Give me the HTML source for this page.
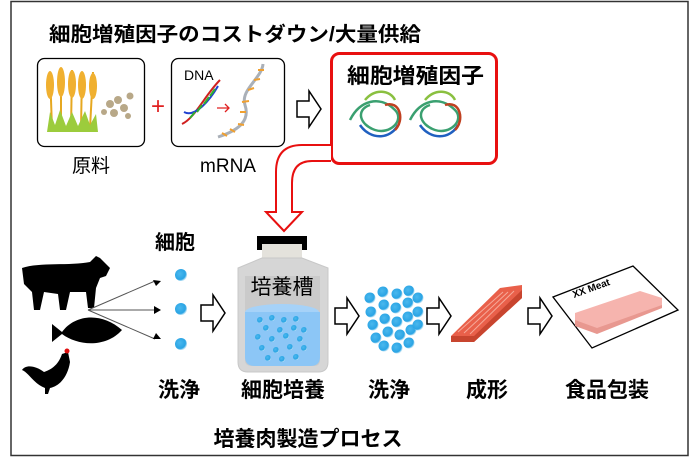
<!DOCTYPE html>
<html><head><meta charset="utf-8"><style>
html,body{margin:0;padding:0;background:#fff;}
svg{display:block;}
text{font-family:"Liberation Sans","Noto Sans CJK JP",sans-serif;}
</style></head><body>
<svg width="690" height="474" viewBox="0 0 690 474" xmlns="http://www.w3.org/2000/svg">
<defs>
<g id="harrow"><path d="M0,-8 H12 V-18 L24,0 L12,18 V8 H0 Z" fill="#fff" stroke="#000" stroke-width="1.5"/></g>
<radialGradient id="cell" cx="0.4" cy="0.4" r="0.6"><stop offset="0" stop-color="#4ab8ee"/><stop offset="0.8" stop-color="#2aa4e4"/><stop offset="1" stop-color="#bfe4f6"/></radialGradient>
</defs>
<rect x="11" y="1.5" width="677" height="454" fill="#fff" stroke="#333" stroke-width="1.5"/>
<text x="49" y="41" font-size="20" font-weight="bold" textLength="372" lengthAdjust="spacingAndGlyphs">細胞増殖因子のコストダウン/大量供給</text>

<!-- box 1 -->
<rect x="37.5" y="58.5" width="107" height="88" rx="7" fill="#fff" stroke="#000" stroke-width="1.3"/>
<g stroke="#e6a820" stroke-width="2">
<line x1="50" y1="72" x2="52" y2="128"/><line x1="61" y1="68" x2="61" y2="128"/><line x1="72" y1="70" x2="71" y2="128"/><line x1="82" y1="72" x2="81" y2="128"/><line x1="93" y1="72" x2="90" y2="128"/>
</g>
<g fill="#f0b030">
<ellipse cx="50" cy="85" rx="4" ry="14"/><ellipse cx="61" cy="82" rx="4" ry="15"/><ellipse cx="72" cy="84" rx="4" ry="14"/><ellipse cx="82" cy="85" rx="4" ry="14"/><ellipse cx="93" cy="86" rx="4" ry="13"/>
</g>
<path d="M47,132 L50,112 L55,125 L60,110 L66,126 L72,112 L78,126 L85,111 L90,125 L96,114 L98,132 Z" fill="#9ccc3c"/>
<g fill="#b8a888"><circle cx="110" cy="104" r="4"/><circle cx="118" cy="100" r="4"/><circle cx="124" cy="108" r="4"/><circle cx="114" cy="113" r="4"/><circle cx="130" cy="96" r="3.5"/><circle cx="128" cy="116" r="3"/><circle cx="104" cy="112" r="3"/></g>
<text x="91" y="172" font-size="19" text-anchor="middle">原料</text>
<text x="158" y="114" font-size="24" fill="#e02020" text-anchor="middle">+</text>

<!-- box 2 -->
<rect x="171.5" y="58.5" width="113" height="88" rx="7" fill="#fff" stroke="#000" stroke-width="1.3"/>
<text x="184" y="80" font-size="14">DNA</text>
<path d="M182,124 C195,118 205,95 220,80" stroke="#d02020" stroke-width="2" fill="none"/>
<path d="M184,112 C195,118 210,100 218,86" stroke="#2040d0" stroke-width="2" fill="none"/>
<path d="M190,118 L195,112 M197,112 L202,105 M204,104 L209,97 M210,96 L215,89" stroke="#30b030" stroke-width="2"/>
<path d="M217,108 H229 M225,104 L229,108 L225,112" stroke="#e02020" stroke-width="1.3" fill="none"/>
<path d="M218,137 C240,130 250,120 245,105 C240,90 262,78 263,64" stroke="#aab0b8" stroke-width="3" fill="none"/>
<path d="M222,133 l5,3 M230,129 l5,3 M238,124 l6,1 M240,112 l6,0 M242,102 l7,-1 M248,90 l6,-2 M254,80 l6,-1 M258,70 l6,0" stroke="#f0a030" stroke-width="2"/>
<text x="228" y="172" font-size="19" text-anchor="middle">mRNA</text>

<use href="#harrow" x="297" y="109"/>

<!-- red box -->
<rect x="331.5" y="53.5" width="165" height="110" rx="8" fill="#fff" stroke="#e81010" stroke-width="3"/>
<text x="347" y="83" font-size="21" font-weight="bold" textLength="137" lengthAdjust="spacingAndGlyphs">細胞増殖因子</text>
<g stroke-width="2.5" fill="none">
<path d="M350,120 C360,100 380,95 395,110 C405,120 390,135 375,130 C360,125 355,110 370,105" stroke="#3aa070"/>
<path d="M365,100 C375,88 390,90 395,100" stroke="#8ac040"/>
<path d="M360,125 C370,140 390,140 398,125" stroke="#2060c0"/>
<path d="M385,105 C400,100 405,120 395,130" stroke="#c04020"/>
<path d="M410,120 C420,100 440,95 455,110 C465,120 450,135 435,130 C420,125 415,110 430,105" stroke="#3aa070"/>
<path d="M425,100 C435,88 450,90 455,100" stroke="#8ac040"/>
<path d="M420,125 C430,140 450,140 458,125" stroke="#2060c0"/>
<path d="M445,105 C460,100 465,120 455,130" stroke="#c04020"/>
</g>

<!-- red hollow connector -->
<path d="M331,145 H302 Q276,145 276,172 V212 H266 L284,231 L302,212 H292 V183 Q292,161 312,161 H331" fill="#fff" stroke="#e81010" stroke-width="2"/>

<!-- animals -->
<path d="M22,268 C40,262 70,266 90,262 L96,256 L100,258 L110,268 L106,276 L100,278 L96,288 L94,308 L88,308 L86,292 L70,292 L66,310 L60,310 L58,294 L44,292 L40,310 L34,310 L32,292 L24,284 Z" fill="#000"/>
<path d="M52,324 L62,332 C75,314 102,312 122,330 C106,348 78,346 62,334 L52,342 Z" fill="#000"/>
<path d="M62,354 L68,352 L70,362 C68,376 60,386 50,388 L48,394 L45,394 L45,388 C34,384 28,372 22,370 C26,364 36,366 44,372 C50,370 58,366 62,354 Z" fill="#000"/>
<circle cx="67" cy="351" r="2.5" fill="#e01010"/>
<g stroke="#555" stroke-width="1" fill="#000">
<line x1="88" y1="310" x2="155" y2="281"/><line x1="88" y1="310" x2="155" y2="310"/><line x1="88" y1="310" x2="155" y2="339"/>
</g>
<path d="M161,281 l-8,-1 l3,6 Z M161,310 l-7,-4 v8 Z M161,339 l-5,-6 l-3,6 Z" fill="#000"/>
<text x="155" y="249" font-size="20" font-weight="bold">細胞</text>
<circle cx="181" cy="275" r="6" fill="url(#cell)"/><circle cx="181" cy="309" r="6" fill="url(#cell)"/><circle cx="181" cy="344" r="6" fill="url(#cell)"/>
<use href="#harrow" x="201" y="313"/>

<!-- bottle -->
<rect x="257" y="236" width="50" height="14" fill="#000"/>
<rect x="262" y="244" width="40" height="14" fill="#e4e2dc"/>
<path d="M262,258 L238,268 V362 Q238,372 248,372 H318 Q328,372 328,362 V268 L302,258 Z" fill="#d6d6d6" stroke="#c8c8c8"/>
<path d="M245,276 V360 Q245,366 252,366 H314 Q320,366 320,360 V276 Z" fill="#bdbdbd" opacity="0.5"/>
<text x="282" y="294" font-size="21" text-anchor="middle">培養槽</text>
<ellipse cx="282" cy="312" rx="37" ry="8" fill="#a6d2f8"/>
<path d="M245,312 V357 Q245,366 255,366 H310 Q320,366 320,357 V312 Z" fill="#8cc6f6"/>
<g fill="url(#cell)">
<circle cx="260" cy="320" r="3"/><circle cx="272" cy="318" r="3"/><circle cx="284" cy="320" r="3"/><circle cx="296" cy="319" r="3"/><circle cx="266" cy="328" r="3"/><circle cx="280" cy="330" r="3"/><circle cx="294" cy="328" r="3"/><circle cx="304" cy="330" r="3"/><circle cx="258" cy="337" r="3"/><circle cx="272" cy="339" r="3"/><circle cx="286" cy="336" r="3"/><circle cx="300" cy="339" r="3"/><circle cx="262" cy="348" r="3"/><circle cx="276" cy="350" r="3"/><circle cx="290" cy="347" r="3"/><circle cx="304" cy="348" r="3"/><circle cx="268" cy="358" r="3"/><circle cx="282" cy="359" r="3"/><circle cx="296" cy="357" r="3"/>
</g>
<use href="#harrow" x="335" y="316"/>

<!-- cell cluster -->
<g fill="url(#cell)">
<circle cx="370" cy="298" r="5.5"/><circle cx="383" cy="292" r="5.5"/><circle cx="397" cy="294" r="5.5"/><circle cx="409" cy="291" r="5.5"/>
<circle cx="371" cy="312" r="5.5"/><circle cx="384" cy="305" r="5.5"/><circle cx="396" cy="308" r="5.5"/><circle cx="408" cy="303" r="5.5"/><circle cx="418" cy="298" r="5.5"/>
<circle cx="373" cy="325" r="5.5"/><circle cx="385" cy="319" r="5.5"/><circle cx="397" cy="322" r="5.5"/><circle cx="408" cy="317" r="5.5"/><circle cx="418" cy="312" r="5.5"/>
<circle cx="376" cy="338" r="5.5"/><circle cx="388" cy="332" r="5.5"/><circle cx="400" cy="335" r="5.5"/><circle cx="411" cy="330" r="5.5"/><circle cx="418" cy="325" r="5.5"/><circle cx="384" cy="346" r="5.5"/><circle cx="397" cy="348" r="5.5"/><circle cx="409" cy="343" r="5.5"/>
</g>
<use href="#harrow" x="427" y="316"/>

<!-- salmon -->
<path d="M451,336 L500,288 L522,285 L522,298 L474,342 L451,342 Z" fill="#e9604a"/>
<path d="M451,336 L474,336 L522,290 L522,298 L474,342 L451,342 Z" fill="#c8452f"/>
<path d="M458,332 L503,292 M464,333 L508,292 M470,334 L514,291" stroke="#f6a898" stroke-width="1" fill="none"/>
<use href="#harrow" x="528" y="316"/>

<!-- package -->
<path d="M553,297 L633,266 L678,310 L592,348 Z" fill="#fff" stroke="#000" stroke-width="1.3"/>
<text x="574" y="298" font-size="10" font-weight="bold" transform="rotate(-20 574 298)">XX Meat</text>
<path d="M575,313 L640,291 L662,298 L662,308 L597,332 L575,326 Z" fill="#f6b4ae"/>
<path d="M575,320 L597,328 L662,305 L662,308 L597,334 L575,326 Z" fill="#e89890"/>

<!-- labels -->
<g font-size="21" font-weight="bold" text-anchor="middle">
<text x="179" y="397">洗浄</text>
<text x="283" y="397">細胞培養</text>
<text x="389" y="397">洗浄</text>
<text x="487" y="397">成形</text>
<text x="607" y="397">食品包装</text>
<text x="308" y="446">培養肉製造プロセス</text>
</g>
</svg>
</body></html>
